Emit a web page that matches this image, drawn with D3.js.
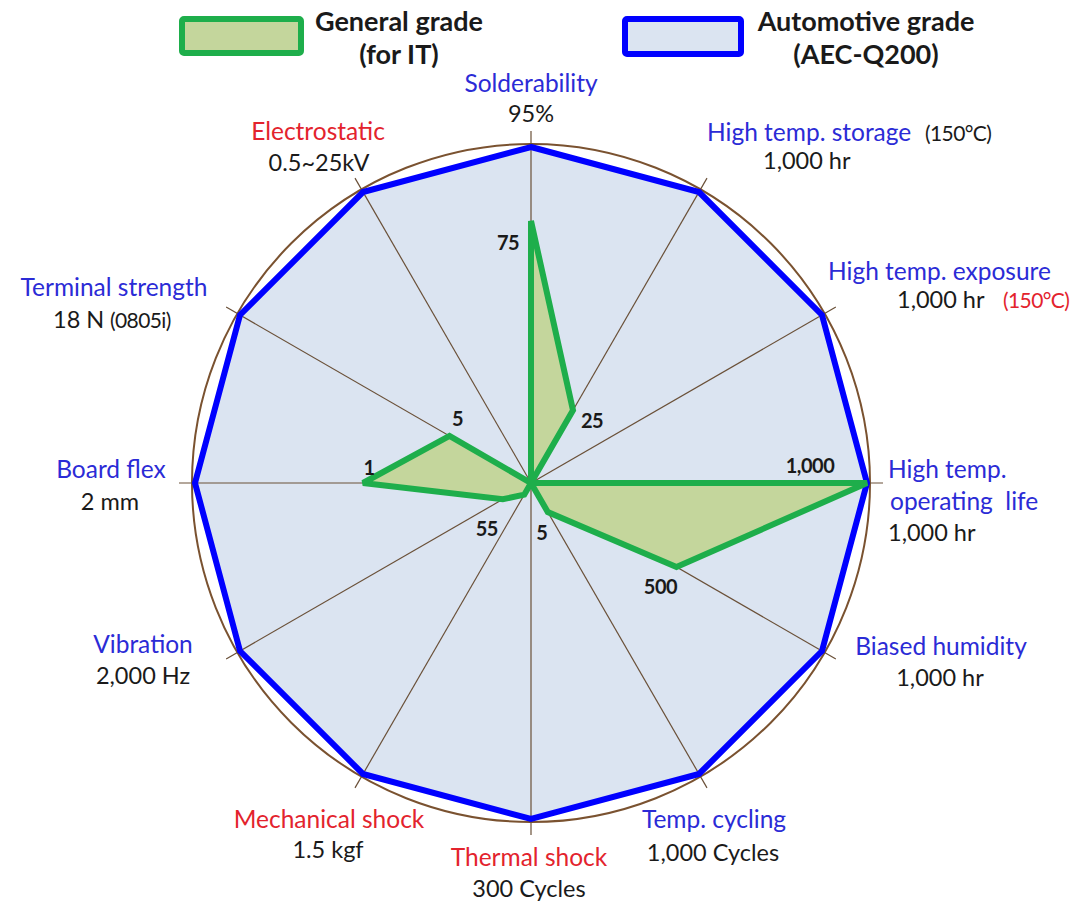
<!DOCTYPE html>
<html>
<head>
<meta charset="utf-8">
<script src="https://cdn.jsdelivr.net/npm/d3@7"></script>
<style>
  html, body { margin: 0; padding: 0; background: #ffffff; }
  svg { display: block; }
  text { font-family: Lato, "Open Sans", sans-serif; }
</style>
</head>
<body>
<svg id="chart" width="1089" height="909"></svg>
<script>
// ---------- DATA ----------
const axisNames = ["Solderability", "High temp. storage", "High temp. exposure", "High temp.|operating  life",
  "Biased humidity", "Temp. cycling", "Thermal shock", "Mechanical shock", "Vibration", "Board flex",
  "Terminal strength", "Electrostatic"];
const axisSpecs = ["95%", "1,000 hr", "1,000 hr", "1,000 hr", "1,000 hr", "1,000 Cycles", "300 Cycles",
  "1.5 kgf", "2,000 Hz", "2 mm", "18 N", "0.5~25kV"];
const axisNotes = ["", "(150°C)", "(150°C)", "", "", "", "", "", "", "", "(0805i)", ""];
const nameKind = ["blue", "blue", "blue", "blue", "blue", "blue", "red", "red", "blue", "blue", "blue", "red"];
// relative reach of each grade on each axis (automotive = full scale)
const automotiveValues = [1, 1, 1, 1, 1, 1, 1, 1, 1, 1, 1, 1];
const generalValues = [0.78, 0.25, 0.0, 1.0, 0.5, 0.1, 0.0, 0.04, 0.097, 0.5, 0.28, 0.0];
const generalLabels = ["75", "25", "", "1,000", "500", "5", "", "", "55", "1", "5", ""];
const legendLabels = [["General grade", "(for IT)"], ["Automotive grade", "(AEC-Q200)"]];

// ---------- LAYOUT ----------
const svg = d3.select("#chart");
const cx = 531, cy = 483, R = 336;
const r = d3.scaleLinear().domain([0, 1]).range([0, R]);
const ang = d3.scaleLinear().domain([0, axisNames.length]).range([0, 2 * Math.PI]);
const colors = {
  blue: "#2b2bd6", red: "#e3232d", black: "#1a1a1a",
  autoStroke: "#0000ff", autoFill: "#dbe4f1",
  genStroke: "#1eae4b", genFill: "#c4d69c",
  spoke: "#6a5038", circle: "#7a5230"
};

const g = svg.append("g").attr("transform", `translate(${cx},${cy})`);

// outer circle
g.append("circle").attr("r", R + 3).attr("fill", "none")
  .attr("stroke", colors.circle).attr("stroke-width", 2);

const radial = d3.lineRadial().angle((d, i) => ang(i)).radius(d => r(d)).curve(d3.curveLinearClosed);

// automotive fill
g.append("path").datum(automotiveValues).attr("d", radial)
  .attr("fill", colors.autoFill).attr("stroke", "none");

// spokes
g.selectAll("line.spoke").data(axisNames).join("line")
  .attr("class", "spoke")
  .attr("x1", 0).attr("y1", 0)
  .attr("x2", (d, i) => Math.sin(ang(i)) * (R + 16))
  .attr("y2", (d, i) => -Math.cos(ang(i)) * (R + 16))
  .attr("stroke", colors.spoke).attr("stroke-width", 1.2);

// automotive stroke
g.append("path").datum(automotiveValues).attr("d", radial)
  .attr("fill", "none").attr("stroke", colors.autoStroke)
  .attr("stroke-width", 6).attr("stroke-linejoin", "miter");

// general grade
g.append("path").datum(generalValues).attr("d", radial)
  .attr("fill", colors.genFill).attr("stroke", colors.genStroke)
  .attr("stroke-width", 6).attr("stroke-linejoin", "miter").attr("stroke-miterlimit", 2.5);

// general value labels (offsets from each data point)
const valOffsets = [[-23, 29], [19, 18], [0, 0], [-57, -10], [-16, 27], [-6, 28], [0, 0], [0, 0],
  [-16, 37], [6, -8], [8, -10], [0, 0]];
g.selectAll("text.val").data(generalValues).join("text")
  .attr("class", "val")
  .attr("x", (d, i) => Math.sin(ang(i)) * r(d) + valOffsets[i][0])
  .attr("y", (d, i) => -Math.cos(ang(i)) * r(d) + valOffsets[i][1])
  .attr("text-anchor", "middle")
  .attr("font-size", 20).attr("font-weight", "bold").attr("fill", colors.black)
  .attr("letter-spacing", -0.5)
  .text((d, i) => generalLabels[i]);

// axis labels: [name x, name y, anchor, spec x, spec y, spec anchor, note x, note y]
const labelPos = [
  [531, 92, "middle", 531, 122, "middle"],
  [707, 141, "start", 763, 169, "start", 925, 141],
  [828, 280, "start", 897, 308, "start", 1003, 308],
  [888, 478, "start", 888, 541, "start"],
  [941, 655, "middle", 940, 686, "middle"],
  [714, 828, "middle", 713, 861, "middle"],
  [529, 866, "middle", 529, 897, "middle"],
  [329, 828, "middle", 328, 858, "middle"],
  [143, 653, "middle", 143, 684, "middle"],
  [111, 478, "middle", 110, 510, "middle"],
  [114, 296, "middle", 53, 328, "start", 110, 328],
  [318, 140, "middle", 319, 171, "middle"]
];
const fs = 24.5, fsSpec = 23.5;
axisNames.forEach((name, i) => {
  const p = labelPos[i];
  const parts = name.split("|");
  parts.forEach((t, k) => {
    svg.append("text").attr("x", p[0] + (k ? 2 : 0)).attr("y", p[1] + k * 32)
      .attr("text-anchor", p[2]).attr("font-size", fs)
      .attr("fill", colors[nameKind[i]]).attr("xml:space", "preserve")
      .style("white-space", "pre").text(t);
  });
  svg.append("text").attr("x", p[3]).attr("y", p[4]).attr("text-anchor", p[5])
    .attr("font-size", fsSpec).attr("fill", colors.black).text(axisSpecs[i]);
  if (axisNotes[i]) {
    svg.append("text").attr("x", p[6]).attr("y", p[7]).attr("text-anchor", "start")
      .attr("font-size", 21).attr("letter-spacing", -0.6)
      .attr("fill", i === 2 ? colors.red : colors.black).text(axisNotes[i]);
  }
});

// legend
const legendBoxes = [
  { x: 182, y: 19, w: 119, h: 34, stroke: colors.genStroke, fill: colors.genFill, tx: 399 },
  { x: 625, y: 19, w: 116, h: 35, stroke: colors.autoStroke, fill: colors.autoFill, tx: 866 }
];
legendBoxes.forEach((b, i) => {
  svg.append("rect").attr("x", b.x).attr("y", b.y).attr("width", b.w).attr("height", b.h)
    .attr("rx", 2).attr("fill", b.fill).attr("stroke", b.stroke).attr("stroke-width", 6);
  legendLabels[i].forEach((t, k) => {
    svg.append("text").attr("x", b.tx).attr("y", 31 + k * 33).attr("text-anchor", "middle")
      .attr("font-size", 27).attr("font-weight", "bold").attr("fill", colors.black).text(t);
  });
});
</script>
</body>
</html>
